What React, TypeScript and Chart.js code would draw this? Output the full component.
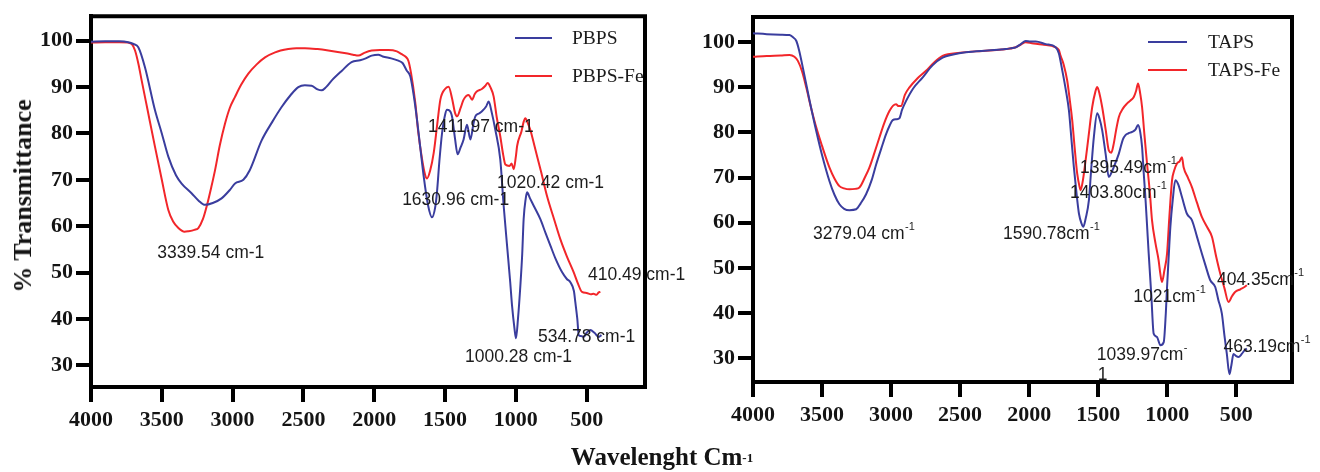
import React, { useEffect, useRef } from 'react';
import { Chart, registerables } from 'chart.js';

Chart.register(...registerables);

// ---------- axis ticks ----------
const xTicks = [4000, 3500, 3000, 2500, 2000, 1500, 1000, 500];
const yTicks = [30, 40, 50, 60, 70, 80, 90, 100];

// ---------- left panel: PBPS ----------
const pbpsWave = [4000, 3900, 3800, 3737, 3700, 3666, 3619, 3548, 3500, 3454, 3400, 3360, 3290, 3240, 3195, 3140, 3078, 3020, 2983, 2924, 2880, 2795, 2720, 2654, 2590, 2536, 2490, 2442, 2400, 2371, 2340, 2301, 2230, 2160, 2100, 2060, 2018, 1971, 1940, 1880, 1830, 1800, 1771, 1745, 1720, 1698, 1675, 1651, 1620, 1592, 1570, 1557, 1540, 1521, 1500, 1486, 1470, 1451, 1430, 1411, 1390, 1369, 1345, 1321, 1300, 1286, 1260, 1239, 1210, 1192, 1170, 1145, 1110, 1086, 1062, 1040, 1027, 1010, 999, 985, 968, 955, 945, 930, 921, 900, 874, 827, 790, 756, 720, 674, 640, 615, 590, 580, 566, 556, 540, 521, 500, 474, 445, 415, 395];
const pbpsT = [99.8, 99.9, 99.9, 99.7, 99.3, 98.6, 94.3, 85, 80, 75, 71, 69.2, 67.1, 65.5, 64.6, 65.0, 66, 67.8, 69.2, 70, 72, 78.5, 82.5, 85.7, 88.3, 90, 90.4, 90.3, 89.5, 89.3, 90, 91.4, 93.5, 95.4, 95.8, 96.2, 96.8, 97, 96.6, 96.2, 95.7, 95.2, 93.6, 92.3, 88, 83, 77, 70.8, 64.5, 61.9, 64, 67.3, 74, 80.1, 84, 85.1, 85, 83.7, 79, 75.5, 77, 78.7, 81.9, 78.7, 82, 83.7, 84.3, 84.8, 85.8, 86.9, 84.5, 80.8, 74.4, 64.4, 55.8, 48, 42.9, 38, 35.8, 40, 47.2, 54, 61.5, 66, 67.3, 66, 64.4, 61.5, 58.5, 55.8, 53, 50.1, 48.6, 47.9, 46, 43.6, 40, 36.5, 36.3, 36.1, 37, 37.6, 37, 36.1, 36.5];

// ---------- left panel: PBPS-Fe ----------
const pbpsFeWave = [4000, 3900, 3800, 3737, 3710, 3689, 3665, 3642, 3600, 3548, 3500, 3454, 3420, 3383, 3340, 3313, 3270, 3242, 3210, 3183, 3150, 3124, 3090, 3054, 3020, 2983, 2940, 2889, 2830, 2771, 2700, 2607, 2550, 2489, 2400, 2324, 2200, 2150, 2112, 2070, 2018, 1960, 1900, 1840, 1806, 1780, 1759, 1740, 1710, 1690, 1662, 1640, 1627, 1605, 1580, 1555, 1533, 1500, 1475, 1450, 1430, 1415, 1390, 1369, 1333, 1309, 1290, 1274, 1240, 1215, 1199, 1180, 1157, 1135, 1110, 1090, 1074, 1045, 1030, 1015, 1000, 991, 960, 945, 933, 915, 898, 870, 850, 820, 780, 730, 686, 640, 592, 560, 533, 500, 470, 451, 430, 415, 403];
const pbpsFeT = [99.6, 99.7, 99.7, 99.6, 99.2, 97.9, 95, 91.4, 85, 77.1, 70, 63.5, 61, 59.6, 58.8, 58.9, 59.2, 59.6, 61.5, 64.3, 68.5, 72.1, 77.5, 82.1, 85.5, 87.9, 90.5, 92.9, 94.9, 96.4, 97.5, 98.2, 98.4, 98.4, 98.2, 97.9, 97.3, 97.0, 96.8, 97.4, 97.9, 98, 98, 97.7, 97.1, 96.6, 95.7, 93, 86.6, 80.5, 74.4, 71, 70.3, 72, 75.8, 82, 87.3, 89.6, 90.1, 87.5, 84.5, 83.7, 85.5, 87.3, 88.3, 87.3, 88.5, 89.1, 89.6, 90.3, 90.9, 90, 88, 83.5, 79.4, 75.5, 73.3, 73.0, 73.5, 72.3, 75, 77.3, 80.5, 82.5, 83.3, 82.2, 80.8, 77.5, 75.1, 71.5, 66.5, 61.5, 57.2, 53.5, 50.1, 47.5, 45.8, 45.6, 45.3, 45.4, 45.2, 45.7, 45.8];

// ---------- right panel: TAPS ----------
const tapsWave = [4000, 3900, 3800, 3735, 3710, 3686, 3665, 3639, 3590, 3542, 3500, 3446, 3410, 3374, 3340, 3301, 3253, 3220, 3181, 3140, 3108, 3070, 3036, 3010, 2988, 2960, 2940, 2920, 2892, 2840, 2772, 2700, 2627, 2550, 2458, 2300, 2169, 2130, 2097, 2060, 2025, 1990, 1952, 1880, 1808, 1785, 1760, 1735, 1712, 1695, 1676, 1655, 1639, 1620, 1608, 1590, 1567, 1550, 1531, 1507, 1490, 1471, 1445, 1423, 1405, 1387, 1350, 1320, 1302, 1280, 1254, 1230, 1211, 1195, 1182, 1170, 1158, 1146, 1134, 1115, 1098, 1075, 1049, 1025, 1010, 1001, 990, 977, 960, 941, 920, 893, 857, 821, 785, 749, 720, 688, 652, 630, 604, 585, 568, 549, 535, 520, 500, 484, 460, 440, 423];
const tapsT = [101.9, 101.7, 101.6, 101.5, 101.0, 100.2, 98, 94.3, 87, 80.3, 75, 69.2, 66.2, 64.1, 63.1, 62.8, 63, 64.3, 66.3, 69.5, 72.9, 76.5, 79.6, 81.5, 82.7, 82.9, 83.1, 85, 86.9, 89.7, 92.1, 94.8, 96.5, 97.2, 97.7, 98.1, 98.4, 98.6, 98.8, 99.5, 100.2, 100.1, 100.1, 99.5, 98.8, 97.5, 93.7, 89.5, 84.9, 79, 72.3, 66, 62, 59.8, 59.1, 61, 65, 72, 79, 84.2, 83, 80.5, 75, 70.1, 71, 72.3, 75.3, 78.5, 79.4, 79.8, 80.1, 80.6, 81.6, 80, 76.8, 71, 65.7, 59.5, 53.2, 44, 35.5, 34.8, 32.9, 33.6, 40, 45.8, 52, 59.1, 65, 69.4, 68.5, 65.7, 62, 60.6, 57, 53.2, 50.3, 47.3, 45.8, 43, 39.9, 35, 31, 26.5, 28.5, 31, 30.5, 30.3, 31, 31.8, 32.2];

// ---------- right panel: TAPS-Fe ----------
const tapsFeWave = [4000, 3900, 3800, 3735, 3700, 3675, 3645, 3614, 3580, 3542, 3500, 3446, 3410, 3374, 3340, 3301, 3260, 3229, 3190, 3157, 3120, 3085, 3050, 3012, 2985, 2964, 2945, 2928, 2900, 2868, 2810, 2747, 2690, 2627, 2500, 2338, 2200, 2097, 2060, 2025, 1980, 1905, 1808, 1785, 1772, 1750, 1724, 1705, 1688, 1670, 1652, 1635, 1627, 1610, 1591, 1570, 1543, 1520, 1507, 1490, 1471, 1445, 1423, 1405, 1387, 1370, 1350, 1320, 1290, 1260, 1242, 1225, 1211, 1195, 1182, 1165, 1146, 1125, 1110, 1085, 1062, 1050, 1038, 1020, 1001, 985, 965, 950, 929, 910, 893, 881, 850, 821, 785, 749, 710, 676, 645, 616, 585, 556, 530, 508, 470, 440, 423];
const tapsFeT = [96.7, 96.9, 97.0, 97.1, 96.7, 95.8, 93.5, 89.9, 85.5, 81.1, 77, 72.2, 69.8, 68.1, 67.6, 67.4, 67.5, 67.8, 70, 72.2, 75.5, 78.8, 82, 84.7, 85.9, 86.2, 85.8, 85.8, 88.3, 89.9, 91.9, 93.6, 95.4, 96.9, 97.6, 98, 98.3, 98.8, 99.4, 99.9, 99.7, 99.4, 98.8, 98.2, 96.9, 95, 91.4, 87, 82.7, 76.5, 70.9, 68, 67.2, 69.5, 73.8, 79, 85.6, 89, 90, 88.5, 85.6, 80.5, 76, 75.5, 77.5, 80.5, 83.4, 85.3, 86.4, 87.2, 87.8, 89.2, 90.8, 88.5, 85.6, 79.5, 73.1, 66.5, 60.6, 55.5, 51.7, 48.8, 46.9, 49.5, 53.2, 61, 69.4, 71.5, 73.1, 73.6, 74.5, 72.3, 70, 67.9, 64.5, 61.3, 59, 56.9, 52.5, 48.8, 45.5, 42.5, 43.8, 44.7, 45.3, 45.8, 46.2];

// ---------- series names ----------
const leftSeries = ['PBPS', 'PBPS-Fe'];
const rightSeries = ['TAPS', 'TAPS-Fe'];

// ---------- peak annotations (text, superscript, anchored in data units) ----------
const leftNoteText = ['3339.54 cm-1', '1411.97 cm-1', '1630.96 cm-1', '1020.42 cm-1', '410.49 cm-1', '534.78 cm-1', '1000.28 cm-1'];
const leftNoteWave = [3532, 1620, 1803, 1133, 491, 844, 1359];
const leftNoteT = [54.2, 81.4, 65.6, 69.3, 49.4, 36.0, 31.7];

const rightNoteText = ['3279.04 cm', '1590.78cm', '1395.49cm', '1403.80cm', '1021cm', '404.35cm', '1039.97cm', '1', '463.19cm'];
const rightNoteSup = ['-1', '-1', '-1', '-1', '-1', '-1', '-', '', '-1'];
const rightNoteWave = [3565, 2189, 1631, 1704, 1245, 640, 1510, 1503, 592];
const rightNoteT = [57.5, 57.5, 72.1, 66.5, 43.6, 47.3, 30.7, 26.3, 32.5];

const BLUE = '#3a3d9e';
const RED = '#f2262a';
const SERIF = '"Liberation Serif", "Times New Roman", serif';
const SANS = '"Liberation Sans", Arial, sans-serif';

const decorPlugin = {
  id: 'decor',
  afterDatasetsDraw(chart: any, _args: any, opts: any) {
    const { ctx, chartArea: ca, scales } = chart;
    ctx.save();
    // frame (top and right)
    ctx.strokeStyle = '#000';
    ctx.lineWidth = 4;
    ctx.lineCap = 'square';
    ctx.beginPath();
    ctx.moveTo(ca.left, ca.top);
    ctx.lineTo(ca.right, ca.top);
    ctx.lineTo(ca.right, ca.bottom);
    ctx.stroke();

    // annotations
    ctx.fillStyle = '#1c1c1c';
    ctx.textBaseline = 'middle';
    ctx.textAlign = 'left';
    const notes = opts.notes || [];
    notes.forEach((n: any) => {
      const x = scales.x.getPixelForValue(n.w);
      const y = scales.y.getPixelForValue(n.t);
      ctx.font = `17.5px ${SANS}`;
      ctx.fillText(n.text, x, y);
      if (n.sup) {
        const w = ctx.measureText(n.text).width;
        ctx.font = `11px ${SANS}`;
        ctx.fillText(n.sup, x + w + 0.5, y - 7);
      }
    });

    // legend
    const lg = opts.legend;
    if (lg) {
      chart.data.datasets.forEach((ds: any, i: number) => {
        const y = lg.ys[i];
        ctx.strokeStyle = ds.borderColor;
        ctx.lineWidth = 2;
        ctx.lineCap = 'butt';
        ctx.beginPath();
        ctx.moveTo(lg.x1, y);
        ctx.lineTo(lg.x2, y);
        ctx.stroke();
        ctx.fillStyle = '#1c1c1c';
        ctx.font = `19.5px ${SERIF}`;
        ctx.textBaseline = 'middle';
        ctx.fillText(ds.label, lg.textX, y + 1);
      });
    }
    ctx.restore();
  },
};

function toPoints(xs: number[], ys: number[]) {
  return xs.map((x, i) => ({ x, y: ys[i] }));
}

type PanelProps = {
  left: number;
  width: number;
  padTop: number;
  padRight: number;
  yAxisWidth: number;
  xAxisHeight: number;
  xMin: number;
  yMin: number;
  yMax: number;
  series: { label: string; color: string; xs: number[]; ys: number[] }[];
  notes: { text: string; sup: string; w: number; t: number }[];
  legend: { x1: number; x2: number; textX: number; ys: number[] };
};

function Panel(p: PanelProps) {
  const ref = useRef<HTMLCanvasElement | null>(null);
  useEffect(() => {
    if (!ref.current) return;
    const tickFont = { family: SERIF, size: 22, weight: 'bold' as const };
    const chart = new Chart(ref.current, {
      type: 'line',
      data: {
        datasets: p.series.map((s) => ({
          label: s.label,
          data: toPoints(s.xs, s.ys),
          borderColor: s.color,
          backgroundColor: s.color,
          borderWidth: 2,
          pointRadius: 0,
          cubicInterpolationMode: 'monotone' as const,
          fill: false,
        })),
      },
      options: {
        animation: false,
        responsive: false,
        devicePixelRatio: 1,
        layout: { padding: { top: p.padTop, right: p.padRight, left: 0, bottom: 0 } },
        plugins: {
          legend: { display: false },
          tooltip: { enabled: false },
          decor: { notes: p.notes, legend: p.legend },
        } as any,
        scales: {
          x: {
            type: 'linear',
            reverse: true,
            min: p.xMin,
            max: 4000,
            afterBuildTicks: (scale: any) => {
              scale.ticks = xTicks.map((v) => ({ value: v }));
            },
            afterFit: (scale: any) => {
              scale.height = p.xAxisHeight;
            },
            ticks: {
              autoSkip: false,
              maxRotation: 0,
              padding: 5,
              color: '#141414',
              font: tickFont,
              callback: (v: any) => String(v),
            },
            grid: {
              display: true,
              drawOnChartArea: false,
              drawTicks: true,
              tickLength: 15,
              tickWidth: 4,
              tickColor: '#000',
              color: '#000',
              lineWidth: 4,
            },
            border: { display: true, color: '#000', width: 4 },
          },
          y: {
            type: 'linear',
            min: p.yMin,
            max: p.yMax,
            afterBuildTicks: (scale: any) => {
              scale.ticks = yTicks.map((v) => ({ value: v }));
            },
            afterFit: (scale: any) => {
              scale.width = p.yAxisWidth;
            },
            ticks: {
              autoSkip: false,
              padding: 3,
              color: '#141414',
              font: tickFont,
              callback: (v: any) => String(v),
            },
            grid: {
              display: true,
              drawOnChartArea: false,
              drawTicks: true,
              tickLength: 15,
              tickWidth: 4,
              tickColor: '#000',
              color: '#000',
              lineWidth: 4,
            },
            border: { display: true, color: '#000', width: 4 },
          },
        },
      } as any,
      plugins: [decorPlugin],
    });
    return () => chart.destroy();
  }, []);
  return (
    <canvas
      ref={ref}
      width={p.width}
      height={472}
      style={{ position: 'absolute', left: p.left, top: 0, width: p.width, height: 472 }}
    />
  );
}

export default function App() {
  const leftNotes = leftNoteText.map((text, i) => ({ text, sup: '', w: leftNoteWave[i], t: leftNoteT[i] }));
  const rightNotes = rightNoteText.map((text, i) => ({ text, sup: rightNoteSup[i], w: rightNoteWave[i], t: rightNoteT[i] }));
  return (
    <div
      style={{
        position: 'fixed',
        left: 0,
        top: 0,
        width: 1320,
        height: 472,
        background: '#ffffff',
        overflow: 'hidden',
      }}
    >
      <Panel
        left={0}
        width={700}
        padTop={16}
        padRight={55}
        yAxisWidth={91}
        xAxisHeight={85}
        xMin={88}
        yMin={25.3}
        yMax={105.3}
        series={[
          { label: leftSeries[0], color: BLUE, xs: pbpsWave, ys: pbpsT },
          { label: leftSeries[1], color: RED, xs: pbpsFeWave, ys: pbpsFeT },
        ]}
        notes={leftNotes}
        legend={{ x1: 515, x2: 552, textX: 572, ys: [38, 76] }}
      />
      <Panel
        left={660}
        width={660}
        padTop={17}
        padRight={28}
        yAxisWidth={93}
        xAxisHeight={90}
        xMin={96}
        yMin={24.8}
        yMax={105.5}
        series={[
          { label: rightSeries[0], color: BLUE, xs: tapsWave, ys: tapsT },
          { label: rightSeries[1], color: RED, xs: tapsFeWave, ys: tapsFeT },
        ]}
        notes={rightNotes}
        legend={{ x1: 488, x2: 527, textX: 548, ys: [42, 70] }}
      />
      <div
        style={{
          position: 'absolute',
          left: 23,
          top: 196,
          transform: 'translate(-50%, -50%) rotate(-90deg)',
          whiteSpace: 'nowrap',
          fontFamily: SERIF,
          fontWeight: 'bold',
          fontSize: 26,
          lineHeight: '26px',
          color: '#141414',
        }}
      >
        % Transmittance
      </div>
      <div
        style={{
          position: 'absolute',
          left: 662,
          top: 444,
          transform: 'translateX(-50%)',
          whiteSpace: 'nowrap',
          fontFamily: SERIF,
          fontWeight: 'bold',
          fontSize: 25,
          lineHeight: '25px',
          color: '#141414',
        }}
      >
        Wavelenght Cm<sup style={{ fontSize: 13, verticalAlign: 'top', position: 'relative', top: 1 }}>-1</sup>
      </div>
    </div>
  );
}
